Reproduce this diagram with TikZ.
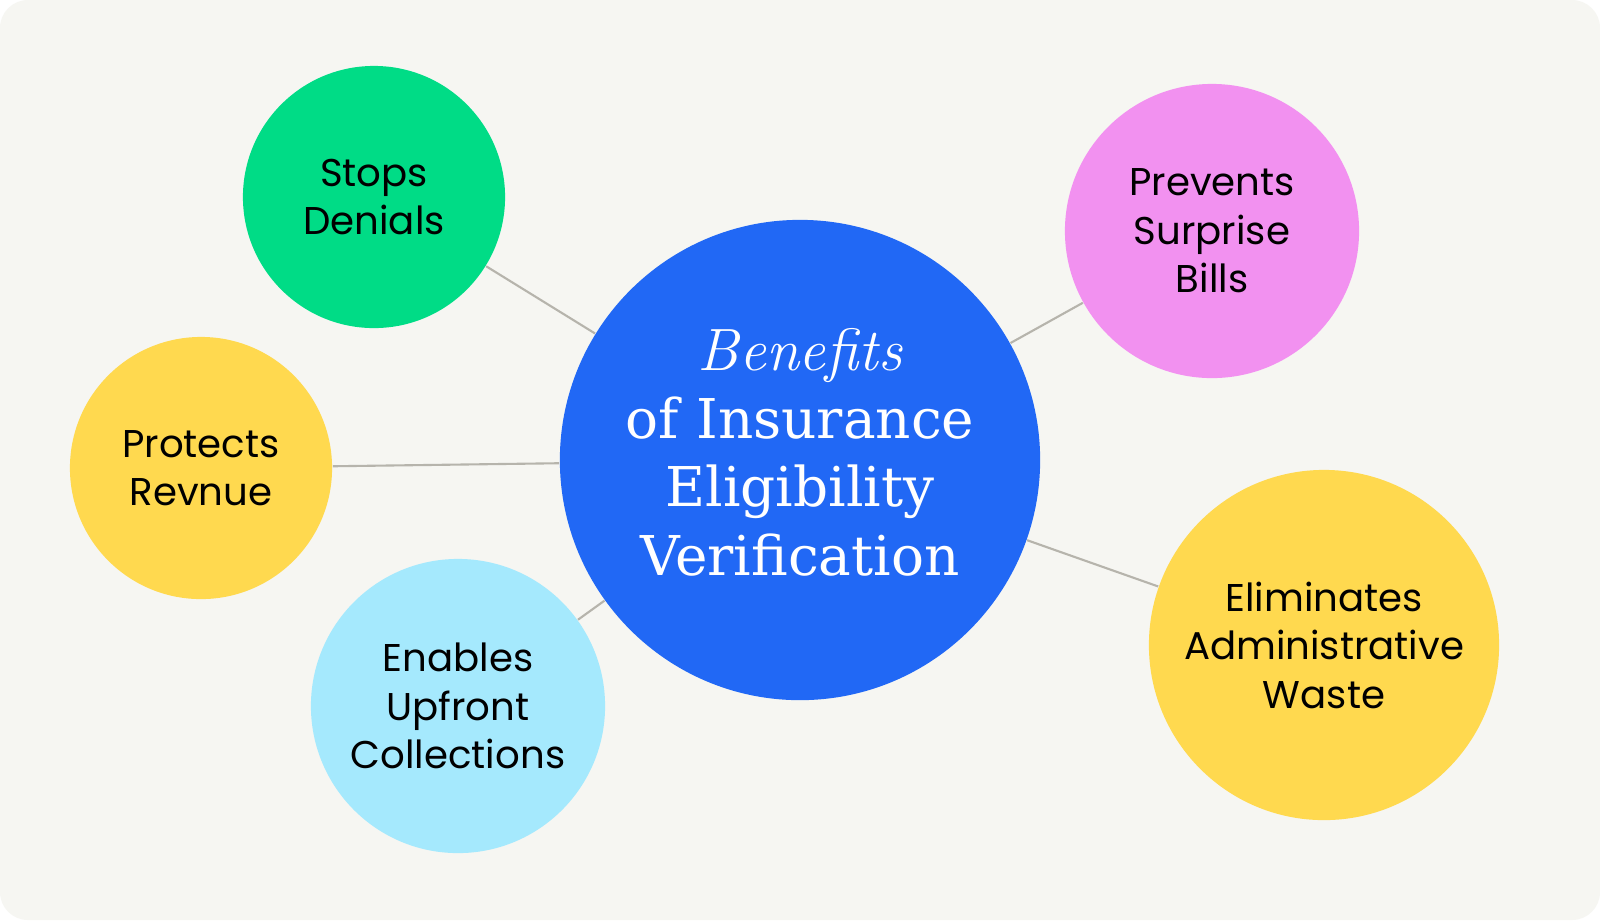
\documentclass[tikz,border=0pt]{standalone}
\usepackage{fontspec}
\setmainfont{Poppins}
\newfontfamily\titlefont{DejaVu Serif}
\newfontfamily\handfont{Latin Modern Roman}
\definecolor{fondo}{HTML}{F6F6F2}
\definecolor{linea}{HTML}{B6B4AC}
\definecolor{azul}{HTML}{2168F5}
\definecolor{verde}{HTML}{00DC86}
\definecolor{amarillo}{HTML}{FFD94F}
\definecolor{celeste}{HTML}{A5E9FD}
\definecolor{rosa}{HTML}{F291F0}

\begin{document}
\begin{tikzpicture}[x=0.01cm, y=-0.01cm,
    bubble/.style={circle, inner sep=0pt, align=center, text=black,
        font=\fontsize{11}{13.8}\selectfont},
    link/.style={draw=linea, line width=0.6pt}]
        % Fondo
        \fill[white] (0,0) rectangle (1600,920);
        \fill[fondo, rounded corners=0.28cm] (0,0) rectangle (1600,920);
        \useasboundingbox (0,0) rectangle (1600,920);

        % Circulo central
        \node[circle, fill=azul, minimum size=4.8cm, inner sep=0pt] (hub) at (800,460) {};

        % Beneficios
        \node[bubble, fill=verde, minimum size=2.62cm] (denials) at (374,197) {Stops\\Denials};
        \node[bubble, fill=amarillo, minimum size=2.62cm] (revenue) at (201,468) {Protects\\Revnue};
        \node[bubble, fill=celeste, minimum size=2.94cm] (upfront) at (458,706) {Enables\\Upfront\\Collections};
        \node[bubble, fill=rosa, minimum size=2.94cm] (bills) at (1212,231) {Prevents\\Surprise\\Bills};
        \node[bubble, fill=amarillo, minimum size=3.5cm] (waste) at (1324,645) {Eliminates\\Administrative\\Waste};

        % Conectores
        \draw[link] (hub) -- (denials);
        \draw[link] (hub) -- (revenue);
        \draw[link] (hub) -- (upfront);
        \draw[link] (hub) -- (bills);
        \draw[link] (hub) -- (waste);

        % Titulo
        \node[text=white, align=center, font=\titlefont\fontsize{15.6}{19.4}\selectfont] (title) at (800,452)
            {{\handfont\itshape\fontsize{17}{19.4}\selectfont Benefits}\\of Insurance\\Eligibility\\Verification};
    \end{tikzpicture}
\end{document}
